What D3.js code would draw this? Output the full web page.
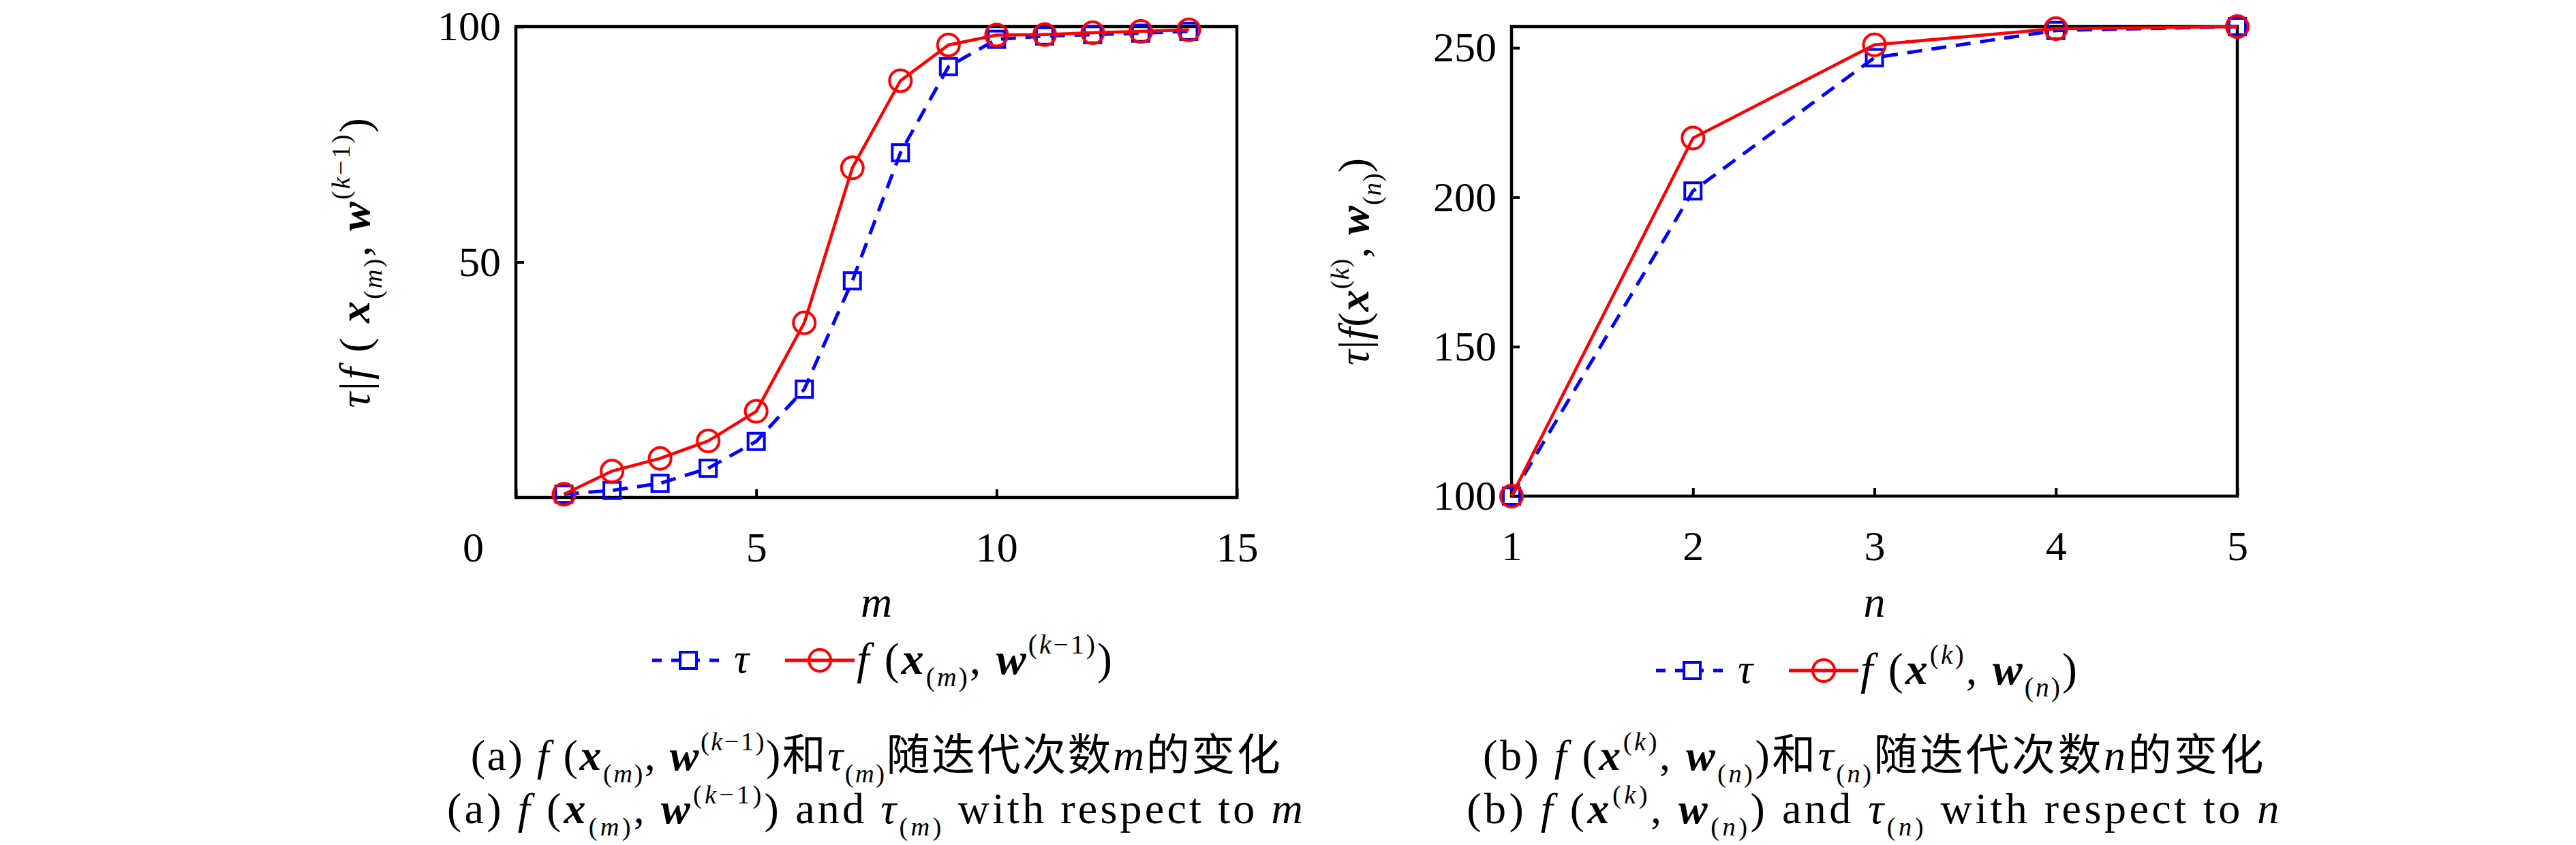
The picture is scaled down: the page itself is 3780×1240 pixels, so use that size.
<!DOCTYPE html>
<html>
<head>
<meta charset="utf-8">
<script src="https://cdn.jsdelivr.net/npm/d3@7"></script>
<style>
body { margin: 0; background: #fff; }
text { font-family: "Liberation Serif", "Noto Sans CJK SC", serif; fill: #000; }
</style>
</head>
<body>
<svg id="chart" width="3780" height="1240"></svg>
<script>
// valeurs (a)
const mValues = [1, 2, 3, 4, 5, 6, 7, 8, 9, 10, 11, 12, 13, 14];
const tauM = [0.7, 1.5, 3.0, 6.2, 11.9, 23.0, 46.0, 73.2, 91.5, 97.3, 98.0, 98.3, 98.6, 99.0];
const fM = [0.7, 5.6, 8.3, 12.0, 18.3, 37.1, 70.0, 88.5, 96.1, 98.2, 98.3, 98.7, 99.0, 99.3];
const mXTicks = [0, 5, 10, 15];
const mYTicks = [50, 100];

// valeurs (b)
const nValues = [1, 2, 3, 4, 5];
const tauN = [100, 202.1, 246.7, 255.8, 257.1];
const fN = [100, 219.8, 251.0, 256.4, 257.1];
const nXTicks = [1, 2, 3, 4, 5];
const nYTicks = [100, 150, 200, 250];

const svg = d3.select('#chart');

// petits morceaux de texte "math"
function R(t) { return [{ t: t, st: 'normal', w: 'normal' }]; }
function I(t) { return [{ t: t, st: 'italic', w: 'normal' }]; }
function B(t) { return [{ t: t, st: 'italic', w: 'bold' }]; }
function sub(...ps) { return ps.flat().map(p => Object.assign({}, p, { pos: 'sub' })); }
function sup(...ps) { return ps.flat().map(p => Object.assign({}, p, { pos: 'sup' })); }
function math(...ps) { return ps.flat(); }

function writeMath(text, parts, size) {
    let cur = 0;
    parts.forEach(p => {
        const target = p.pos === 'sub' ? size * 0.28 : p.pos === 'sup' ? -size * 0.45 : 0;
        text.append('tspan')
            .attr('dy', target - cur)
            .style('font-style', p.st)
            .style('font-weight', p.w)
            .style('font-size', (p.pos ? size * 0.6 : size) + 'px')
            .text(p.t);
        cur = target;
    });
}

const subM = sub(R('('), I('m'), R(')'));
const subN = sub(R('('), I('n'), R(')'));
const supK1 = sup(R('('), I('k'), R('−1'), R(')'));
const supK = sup(R('('), I('k'), R(')'));

const fA = math(I('f'), R(' ('), B('x'), subM, R(',  '), B('w'), supK1, R(')'));
const fB = math(I('f'), R(' ('), B('x'), supK, R(',  '), B('w'), subN, R(')'));

function drawPanel(cfg) {
    const x = d3.scaleLinear().domain(cfg.xDomain).range([cfg.left, cfg.right]);
    const y = d3.scaleLinear().domain(cfg.yDomain).range([cfg.bottom, cfg.top]);

    const g = svg.append('g');

    // axes
    const xAxis = g.append('g')
        .attr('transform', `translate(0,${cfg.bottom})`)
        .call(d3.axisBottom(x).tickValues(cfg.xTicks).tickSize(-12).tickPadding(50).tickFormat(d3.format('d')));
    const yAxis = g.append('g')
        .attr('transform', `translate(${cfg.left},0)`)
        .call(d3.axisLeft(y).tickValues(cfg.yTicks).tickSize(-12).tickPadding(22).tickFormat(d3.format('d')));
    [xAxis, yAxis].forEach(a => {
        a.select('.domain').remove();
        a.selectAll('line').attr('stroke', '#000').attr('stroke-width', 4);
        a.selectAll('text').attr('font-family', null).style('font-size', '62px');
    });
    if (cfg.zeroShift) {
        xAxis.selectAll('.tick text').filter(d => d === 0).attr('x', cfg.zeroShift);
    }

    // cadre
    g.append('rect')
        .attr('x', cfg.left).attr('y', cfg.top)
        .attr('width', cfg.right - cfg.left).attr('height', cfg.bottom - cfg.top)
        .attr('fill', 'none').attr('stroke', '#000').attr('stroke-width', 4.5);

    const line = d3.line().x(d => x(d[0])).y(d => y(d[1]));

    // tau : bleu pointillé + carrés
    const tauData = cfg.xs.map((v, i) => [v, cfg.tau[i]]);
    g.append('path').datum(tauData).attr('d', line)
        .attr('fill', 'none').attr('stroke', '#0000ff').attr('stroke-width', 5)
        .attr('stroke-dasharray', '22,14');
    g.selectAll('.sq').data(tauData).enter().append('rect')
        .attr('x', d => x(d[0]) - 12).attr('y', d => y(d[1]) - 12)
        .attr('width', 24).attr('height', 24)
        .attr('fill', 'none').attr('stroke', '#0000ff').attr('stroke-width', 4);

    // f : rouge plein + cercles
    const fData = cfg.xs.map((v, i) => [v, cfg.f[i]]);
    g.append('path').datum(fData).attr('d', line)
        .attr('fill', 'none').attr('stroke', '#ff0000').attr('stroke-width', 4.5);
    g.selectAll('.ci').data(fData).enter().append('circle')
        .attr('cx', d => x(d[0])).attr('cy', d => y(d[1])).attr('r', 16)
        .attr('fill', 'none').attr('stroke', '#ff0000').attr('stroke-width', 4);

    // titres des axes
    g.append('text')
        .attr('x', (cfg.left + cfg.right) / 2).attr('y', 905)
        .attr('text-anchor', 'middle')
        .style('font-size', '64px').style('font-style', 'italic')
        .text(cfg.xTitle);
    const yl = g.append('text')
        .attr('transform', `translate(${cfg.yTitleX},${(cfg.top + cfg.bottom) / 2}) rotate(-90)`)
        .attr('text-anchor', 'middle')
        .style('letter-spacing', cfg.yTitleSpacing + 'px');
    writeMath(yl, cfg.yTitle, 64);

    // légende
    const lg = g.append('g').attr('transform', `translate(${cfg.legX},${cfg.legY})`);
    lg.append('line').attr('x1', 0).attr('x2', 106).attr('y1', 0).attr('y2', 0)
        .attr('stroke', '#0000ff').attr('stroke-width', 5).attr('stroke-dasharray', '14,14');
    lg.append('rect').attr('x', 41).attr('y', -12).attr('width', 24).attr('height', 24)
        .attr('fill', '#fff').attr('stroke', '#0000ff').attr('stroke-width', 4);
    lg.append('text').attr('x', 120).attr('y', 18)
        .style('font-size', '62px').style('font-style', 'italic').text('τ');
    lg.append('line').attr('x1', 195).attr('x2', 297).attr('y1', 0).attr('y2', 0)
        .attr('stroke', '#ff0000').attr('stroke-width', 5);
    lg.append('circle').attr('cx', 246).attr('cy', 0).attr('r', 16)
        .attr('fill', 'none').attr('stroke', '#ff0000').attr('stroke-width', 4);
    const lt = lg.append('text').attr('x', 300).attr('y', 20)
        .style('letter-spacing', '3px');
    writeMath(lt, cfg.legText, 66);

    // légendes sous la figure
    cfg.captions.forEach((c, i) => {
        const t = g.append('text')
            .attr('x', (cfg.left + cfg.right) / 2).attr('y', 1130 + i * 78)
            .attr('text-anchor', 'middle')
            .style('letter-spacing', cfg.capSpacing[i] + 'px');
        writeMath(t, c, 64);
    });
}

drawPanel({
    left: 757, right: 1815, top: 39, bottom: 730,
    xDomain: [0, 15], yDomain: [0, 100],
    xTicks: mXTicks, yTicks: mYTicks, zeroShift: -63,
    xs: mValues, tau: tauM, f: fM,
    xTitle: 'm',
    yTitle: math(I('τ'), R('|'), I('f'), R(' ( '), B('x'), subM, R(',  '), B('w'), supK1, R(')')),
    yTitleX: 542, yTitleSpacing: 3,
    legX: 957, legY: 969, legText: fA,
    capSpacing: [2.5, 4.2],
    captions: [
        math(R('(a) '), fA, R('和'), I('τ'), subM, R('随迭代次数'), I('m'), R('的变化')),
        math(R('(a) '), fA, R(' and '), I('τ'), subM, R(' with respect to '), I('m'))
    ]
});

drawPanel({
    left: 2218, right: 3283, top: 39, bottom: 728,
    xDomain: d3.extent(nValues), yDomain: [100, d3.max(tauN.concat(fN))],
    xTicks: nXTicks, yTicks: nYTicks,
    xs: nValues, tau: tauN, f: fN,
    xTitle: 'n',
    yTitle: math(I('τ'), R('|'), I('f'), R('('), B('x'), supK, R(',  '), B('w'), subN, R(')')),
    yTitleX: 2008, yTitleSpacing: 1,
    legX: 2430, legY: 984, legText: fB,
    capSpacing: [3.5, 4.5],
    captions: [
        math(R('(b) '), fB, R('和'), I('τ'), subN, R('随迭代次数'), I('n'), R('的变化')),
        math(R('(b) '), fB, R(' and '), I('τ'), subN, R(' with respect to '), I('n'))
    ]
});
</script>
</body>
</html>
